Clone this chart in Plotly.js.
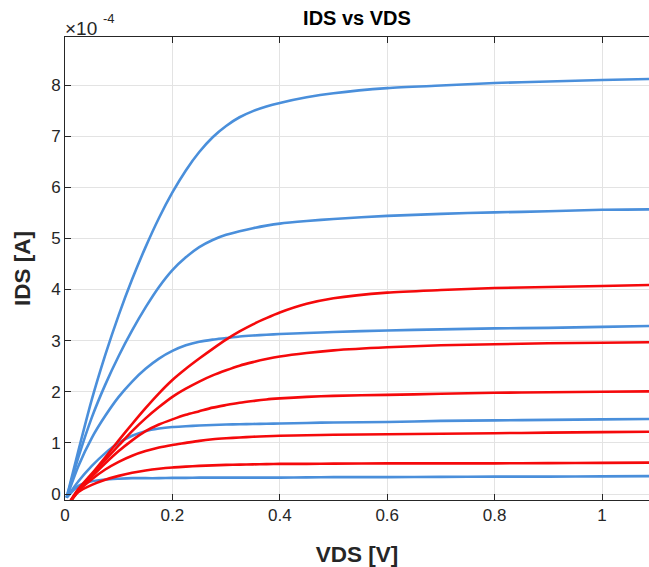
<!DOCTYPE html>
<html>
<head>
<meta charset="utf-8">
<script src="https://cdn.plot.ly/plotly-3.0.1.min.js"></script>
<style>html,body{margin:0;padding:0;background:#fff;}#chart{width:649px;height:567px;}</style>
</head>
<body>
<div id="chart"></div>
<script>
// VDS grid (V)
const vdsGrid = [0.003, 0.025, 0.05, 0.075, 0.1, 0.125, 0.15, 0.175, 0.2, 0.225, 0.25, 0.275, 0.3, 0.325, 0.35, 0.375, 0.4, 0.45, 0.5, 0.6, 0.7, 0.8, 0.9, 1.0, 1.1];
const redVdsGrid = [0.005, 0.025, 0.05, 0.075, 0.1, 0.125, 0.15, 0.175, 0.2, 0.225, 0.25, 0.275, 0.3, 0.325, 0.35, 0.375, 0.4, 0.45, 0.5, 0.6, 0.7, 0.8, 0.9, 1.0, 1.1];

// IDS in units of 1e-4 A
const blue1 = [-0.07, 0.85, 1.85, 2.72, 3.50, 4.20, 4.83, 5.40, 5.90, 6.33, 6.69, 6.98, 7.20, 7.37, 7.49, 7.58, 7.65, 7.76, 7.84, 7.94, 7.99, 8.04, 8.07, 8.10, 8.12];
const blue2 = [-0.07, 0.72, 1.50, 2.14, 2.70, 3.20, 3.65, 4.05, 4.38, 4.63, 4.83, 4.97, 5.07, 5.14, 5.20, 5.25, 5.29, 5.34, 5.38, 5.44, 5.48, 5.51, 5.53, 5.56, 5.57];
const blue3 = [-0.07, 0.55, 1.10, 1.53, 1.90, 2.20, 2.45, 2.65, 2.80, 2.91, 2.98, 3.02, 3.05, 3.08, 3.10, 3.115, 3.13, 3.15, 3.17, 3.20, 3.22, 3.24, 3.25, 3.27, 3.29];
const blue4 = [-0.07, 0.25, 0.55, 0.80, 1.00, 1.14, 1.23, 1.28, 1.31, 1.325, 1.34, 1.35, 1.36, 1.365, 1.37, 1.375, 1.38, 1.39, 1.40, 1.41, 1.43, 1.44, 1.45, 1.46, 1.47];
const blue5 = [-0.07, 0.16, 0.25, 0.285, 0.30, 0.31, 0.31, 0.31, 0.315, 0.315, 0.32, 0.32, 0.32, 0.32, 0.32, 0.32, 0.32, 0.325, 0.33, 0.33, 0.335, 0.34, 0.34, 0.345, 0.35];

const red1 = [-0.22, 0.10, 0.40, 0.72, 1.05, 1.37, 1.68, 1.97, 2.23, 2.45, 2.65, 2.84, 3.02, 3.18, 3.32, 3.44, 3.55, 3.72, 3.83, 3.94, 3.99, 4.03, 4.05, 4.07, 4.09];
const red2 = [-0.22, 0.08, 0.37, 0.67, 0.95, 1.23, 1.48, 1.70, 1.90, 2.06, 2.20, 2.32, 2.42, 2.51, 2.58, 2.64, 2.69, 2.76, 2.81, 2.87, 2.91, 2.93, 2.95, 2.96, 2.97];
const red3 = [-0.22, 0.07, 0.34, 0.60, 0.84, 1.05, 1.23, 1.36, 1.46, 1.55, 1.62, 1.69, 1.74, 1.785, 1.82, 1.85, 1.87, 1.90, 1.92, 1.94, 1.96, 1.98, 1.99, 2.00, 2.01];
const red4 = [-0.22, 0.06, 0.29, 0.48, 0.63, 0.75, 0.84, 0.91, 0.96, 1.00, 1.04, 1.07, 1.09, 1.105, 1.12, 1.13, 1.14, 1.15, 1.16, 1.17, 1.18, 1.19, 1.20, 1.21, 1.22];
const red5 = [-0.22, 0.04, 0.18, 0.28, 0.355, 0.415, 0.46, 0.495, 0.52, 0.535, 0.55, 0.56, 0.57, 0.575, 0.58, 0.585, 0.59, 0.59, 0.595, 0.60, 0.60, 0.60, 0.605, 0.61, 0.615];

const xTickVals = [0, 0.2, 0.4, 0.6, 0.8, 1];
const xTickText = ['0', '0.2', '0.4', '0.6', '0.8', '1'];
const yTickVals = [0, 1, 2, 3, 4, 5, 6, 7, 8];
const yTickText = ['0', '1', '2', '3', '4', '5', '6', '7', '8'];

const BLUE = '#4a8fdb';
const RED = '#f5090b';
const font = 'Liberation Sans, Arial, Helvetica, sans-serif';

const blues = [blue1, blue2, blue3, blue4, blue5];
const reds = [red1, red2, red3, red4, red5];
const traces = [];
blues.forEach(y => traces.push({x: vdsGrid, y: y, type: 'scatter', mode: 'lines',
  line: {color: BLUE, width: 2.6, shape: 'spline', smoothing: 0.7}, hoverinfo: 'skip'}));
reds.forEach(y => traces.push({x: redVdsGrid, y: y, type: 'scatter', mode: 'lines',
  line: {color: RED, width: 2.6, shape: 'spline', smoothing: 0.7}, hoverinfo: 'skip'}));

const axisCommon = {
  showgrid: true, gridcolor: '#e3e3e3', gridwidth: 1,
  zeroline: false, showline: true, linecolor: '#262626', linewidth: 1,
  ticks: 'inside', ticklen: 6, tickcolor: '#262626', tickwidth: 1,
  tickfont: {family: font, size: 17, color: '#262626'},
  tickmode: 'array', fixedrange: true
};

const layout = {
  width: 649, height: 567,
  margin: {l: 65, r: 0, t: 37, b: 67, pad: 0},
  paper_bgcolor: '#ffffff', plot_bgcolor: '#ffffff',
  showlegend: false,
  title: {text: '<b>IDS vs VDS</b>', font: {family: font, size: 20, color: '#000000'},
          x: 0.5, xref: 'paper', xanchor: 'center', y: 1 - 18/567, yref: 'container', yanchor: 'middle'},
  xaxis: Object.assign({}, axisCommon, {
    range: [0, 1.0875], tickvals: xTickVals, ticktext: xTickText, mirror: 'ticks',
    title: {text: '<b>VDS [V]</b>', font: {family: font, size: 22.5, color: '#262626'}, standoff: 22}
  }),
  yaxis: Object.assign({}, axisCommon, {
    range: [-0.117, 8.94], tickvals: yTickVals, ticktext: yTickText,
    title: {text: '<b>IDS [A]</b>', font: {family: font, size: 22.5, color: '#262626'}, standoff: 14}
  }),
  annotations: [
    {xref: 'paper', yref: 'paper', x: 0, y: 1, xanchor: 'left', yanchor: 'bottom',
     xshift: -1, yshift: -3, showarrow: false, borderpad: 0,
     text: '×10', font: {family: font, size: 19, color: '#262626'}},
    {xref: 'paper', yref: 'paper', x: 0, y: 1, xanchor: 'left', yanchor: 'bottom',
     xshift: 37, yshift: 10, showarrow: false, borderpad: 0,
     text: '-4', font: {family: font, size: 13, color: '#262626'}}
  ]
};

Plotly.newPlot('chart', traces, layout, {staticPlot: true, displayModeBar: false});
</script>
</body>
</html>
